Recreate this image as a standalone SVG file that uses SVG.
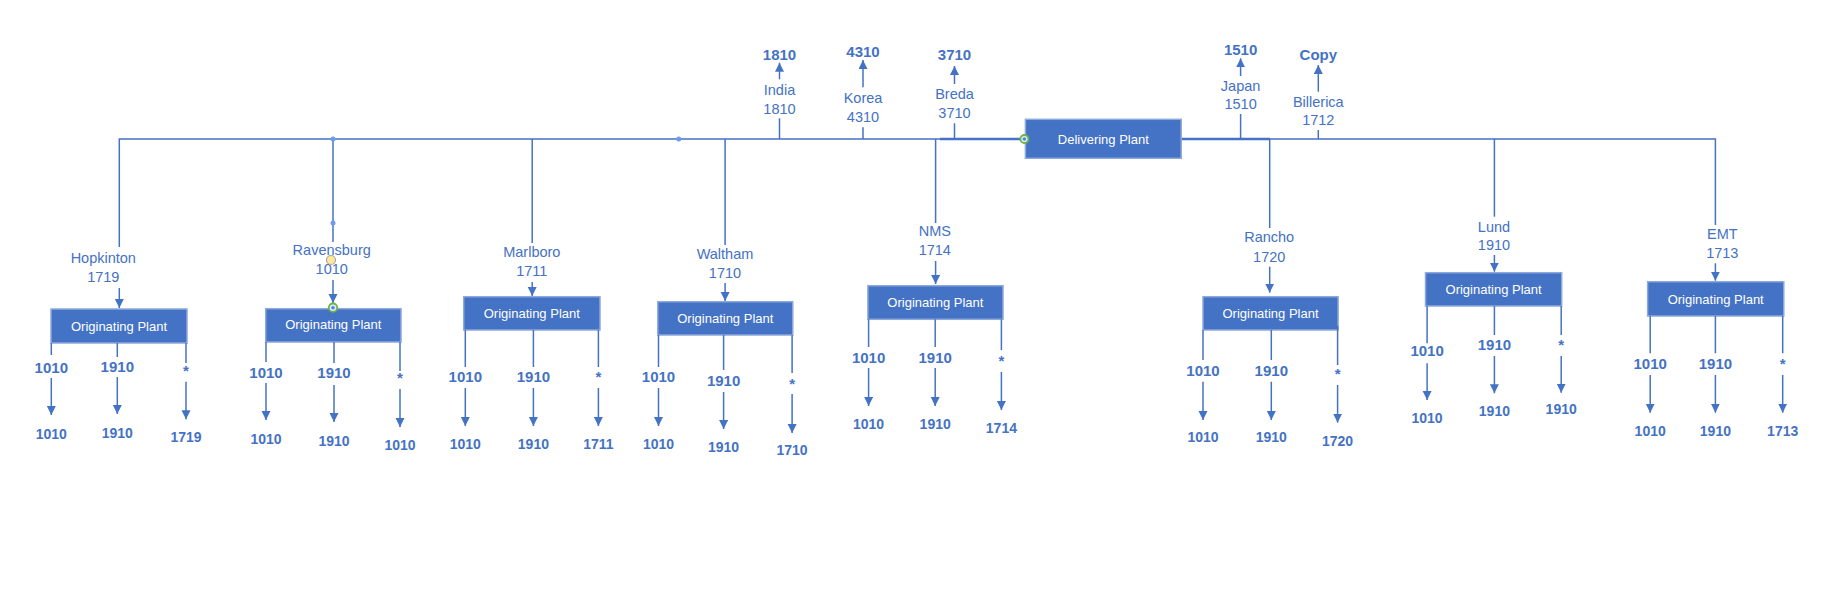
<svg xmlns="http://www.w3.org/2000/svg" width="1831" height="592" viewBox="0 0 1831 592">
<style>
.ln{stroke:#4472C4;stroke-width:1.5;fill:none}
.thk{stroke:#4472C4;stroke-width:2.5;fill:none}
.ar{stroke:#4472C4;stroke-width:1.5;fill:none;marker-end:url(#ah)}
.box{fill:#4472C4;stroke:#8EA9DB;stroke-width:1.5}
.bt{font-family:"Liberation Sans",Arial,sans-serif;font-size:13px;fill:#FFFFFF;text-anchor:middle}
.lb{font-family:"Liberation Sans",Arial,sans-serif;font-size:14.5px;fill:#4472C4;text-anchor:middle}
.b{font-family:"Liberation Sans",Arial,sans-serif;font-size:15px;font-weight:bold;fill:#4472C4;text-anchor:middle}
.bs{font-family:"Liberation Sans",Arial,sans-serif;font-size:14px;font-weight:bold;fill:#4472C4;text-anchor:middle}
.dot{fill:#6C9CF0}
</style>
<defs>
<marker id="ah" markerUnits="userSpaceOnUse" markerWidth="10" markerHeight="10" refX="9" refY="4.5" orient="auto">
<path d="M0,0 L9,4.5 L0,9 z" fill="#4472C4"/>
</marker>
</defs>
<rect width="1831" height="592" fill="#FFFFFF"/>

<g id="connectors">
<polyline class="ln" points="119.3,247 119.3,139 1025,139"/>
<line class="thk" x1="940" y1="139" x2="1025" y2="139"/>
<polyline class="ln" points="1181,139 1715.4,139 1715.4,225"/>
<line class="thk" x1="1181" y1="139" x2="1270" y2="139"/>
<line class="ln" x1="333" y1="139" x2="333" y2="242"/>
<line class="ln" x1="532.2" y1="139" x2="532.2" y2="243"/>
<line class="ln" x1="725.1" y1="139" x2="725.1" y2="245"/>
<line class="ln" x1="935.6" y1="139" x2="935.6" y2="223"/>
<line class="ln" x1="1269.7" y1="139" x2="1269.7" y2="228"/>
<line class="ln" x1="1494.4" y1="139" x2="1494.4" y2="216.7"/>
<line class="ln" x1="779.5" y1="118.3" x2="779.5" y2="139"/>
<line class="ln" x1="863" y1="127.3" x2="863" y2="139"/>
<line class="ln" x1="954.5" y1="123.3" x2="954.5" y2="139"/>
<line class="ln" x1="1240.6" y1="114" x2="1240.6" y2="139"/>
<line class="ln" x1="1318.3" y1="130" x2="1318.3" y2="139"/>
<line class="ar" x1="779.5" y1="79.3" x2="779.5" y2="62.7"/>
<line class="ar" x1="863" y1="87.3" x2="863" y2="60"/>
<line class="ar" x1="954.5" y1="84" x2="954.5" y2="66"/>
<line class="ar" x1="1240.6" y1="76" x2="1240.6" y2="58.3"/>
<line class="ar" x1="1318.3" y1="91.7" x2="1318.3" y2="65"/>
<line class="ar" x1="119.3" y1="288" x2="119.3" y2="308"/>
<line class="ar" x1="333" y1="280" x2="333" y2="303"/>
<line class="ar" x1="532.2" y1="282" x2="532.2" y2="296"/>
<line class="ar" x1="725.1" y1="283" x2="725.1" y2="301"/>
<line class="ar" x1="935.6" y1="261" x2="935.6" y2="284"/>
<line class="ar" x1="1269.7" y1="266.7" x2="1269.7" y2="292.7"/>
<line class="ar" x1="1494.4" y1="255" x2="1494.4" y2="271.7"/>
<line class="ar" x1="1715.4" y1="263.3" x2="1715.4" y2="280.7"/>
<circle class="dot" cx="333" cy="139" r="2.5"/>
<circle class="dot" cx="333" cy="223" r="2.5"/>
<circle class="dot" cx="678.8" cy="139" r="2.5"/>
</g>

<g id="delivering-plant">
<rect class="box" x="1025.4" y="119.3" width="155.8" height="39"/>
<text class="bt" x="1103.3" y="144">Delivering Plant</text>
<circle cx="1024.4" cy="139" r="4" fill="#DDEBFF" stroke="#6FB43F" stroke-width="1.8"/>
<circle cx="1024.4" cy="139" r="1.8" fill="#4A86E8"/>
</g>

<g id="india">
<text class="b" x="779.5" y="60">1810</text>
<text class="lb" x="779.5" y="95">India</text>
<text class="lb" x="779.5" y="114">1810</text>
</g>
<g id="korea">
<text class="b" x="863" y="57.3">4310</text>
<text class="lb" x="863" y="103.3">Korea</text>
<text class="lb" x="863" y="122.3">4310</text>
</g>
<g id="breda">
<text class="b" x="954.5" y="60">3710</text>
<text class="lb" x="954.5" y="99.3">Breda</text>
<text class="lb" x="954.5" y="118.3">3710</text>
</g>
<g id="japan">
<text class="b" x="1240.6" y="55">1510</text>
<text class="lb" x="1240.6" y="90.7">Japan</text>
<text class="lb" x="1240.6" y="109">1510</text>
</g>
<g id="billerica">
<text class="b" x="1318.3" y="60">Copy</text>
<text class="lb" x="1318.3" y="106.7">Billerica</text>
<text class="lb" x="1318.3" y="125">1712</text>
</g>

<g id="hopkinton">
<text class="lb" x="103.3" y="263">Hopkinton</text>
<text class="lb" x="103.3" y="282">1719</text>
<rect class="box" x="51" y="309" width="136" height="34"/>
<text class="bt" x="119" y="331">Originating Plant</text>
<line class="ln" x1="51.3" y1="343" x2="51.3" y2="355"/>
<text class="b" x="51.3" y="373">1010</text>
<line class="ar" x1="51.3" y1="378" x2="51.3" y2="415"/>
<text class="bs" x="51.3" y="439">1010</text>
<line class="ln" x1="117.3" y1="343" x2="117.3" y2="357"/>
<text class="b" x="117.3" y="372">1910</text>
<line class="ar" x1="117.3" y1="377" x2="117.3" y2="414"/>
<text class="bs" x="117.3" y="438">1910</text>
<line class="ln" x1="186" y1="343" x2="186" y2="363"/>
<text class="b" x="186" y="376">*</text>
<line class="ar" x1="186" y1="381.7" x2="186" y2="419.3"/>
<text class="bs" x="186" y="442">1719</text>
</g>

<g id="ravensburg">
<text class="lb" x="331.7" y="255">Ravensburg</text>
<text class="lb" x="331.7" y="274">1010</text>
<circle cx="331" cy="260" r="4.5" fill="#FFE699" stroke="#A6A6A6" stroke-width="1.2"/>
<rect class="box" x="265.7" y="308.7" width="135.3" height="33.3"/>
<text class="bt" x="333.3" y="329">Originating Plant</text>
<circle cx="333" cy="307.7" r="4.2" fill="#DDEBFF" stroke="#6FB43F" stroke-width="1.8"/>
<circle cx="333" cy="307.7" r="1.8" fill="#4A86E8"/>
<line class="ln" x1="266" y1="342" x2="266" y2="362"/>
<text class="b" x="266" y="378">1010</text>
<line class="ar" x1="266" y1="383" x2="266" y2="420"/>
<text class="bs" x="266" y="444">1010</text>
<line class="ln" x1="334" y1="342" x2="334" y2="363"/>
<text class="b" x="334" y="378">1910</text>
<line class="ar" x1="334" y1="385" x2="334" y2="422"/>
<text class="bs" x="334" y="446">1910</text>
<line class="ln" x1="400" y1="342" x2="400" y2="371"/>
<text class="b" x="400" y="383">*</text>
<line class="ar" x1="400" y1="389" x2="400" y2="427"/>
<text class="bs" x="400" y="450">1010</text>
</g>

<g id="marlboro">
<text class="lb" x="531.8" y="257">Marlboro</text>
<text class="lb" x="531.8" y="276">1711</text>
<rect class="box" x="463.7" y="296.7" width="136.3" height="33.3"/>
<text class="bt" x="531.8" y="318">Originating Plant</text>
<line class="ln" x1="465.3" y1="330" x2="465.3" y2="367"/>
<text class="b" x="465.3" y="382">1010</text>
<line class="ar" x1="465.3" y1="388" x2="465.3" y2="426"/>
<text class="bs" x="465.3" y="449">1010</text>
<line class="ln" x1="533.4" y1="330" x2="533.4" y2="367"/>
<text class="b" x="533.4" y="382">1910</text>
<line class="ar" x1="533.4" y1="388" x2="533.4" y2="426"/>
<text class="bs" x="533.4" y="449">1910</text>
<line class="ln" x1="598.4" y1="330" x2="598.4" y2="367"/>
<text class="b" x="598.4" y="382">*</text>
<line class="ar" x1="598.4" y1="388" x2="598.4" y2="426"/>
<text class="bs" x="598.4" y="449">1711</text>
</g>

<g id="waltham">
<text class="lb" x="725" y="259">Waltham</text>
<text class="lb" x="725" y="278">1710</text>
<rect class="box" x="657.8" y="301.7" width="135" height="33.3"/>
<text class="bt" x="725.3" y="323">Originating Plant</text>
<line class="ln" x1="658.5" y1="335" x2="658.5" y2="367"/>
<text class="b" x="658.5" y="382">1010</text>
<line class="ar" x1="658.5" y1="388" x2="658.5" y2="426"/>
<text class="bs" x="658.5" y="449">1010</text>
<line class="ln" x1="723.6" y1="335" x2="723.6" y2="370"/>
<text class="b" x="723.6" y="386">1910</text>
<line class="ar" x1="723.6" y1="392" x2="723.6" y2="429"/>
<text class="bs" x="723.6" y="452">1910</text>
<line class="ln" x1="792.1" y1="335" x2="792.1" y2="373"/>
<text class="b" x="792.1" y="389">*</text>
<line class="ar" x1="792.1" y1="394" x2="792.1" y2="433"/>
<text class="bs" x="792.1" y="455">1710</text>
</g>

<g id="nms">
<text class="lb" x="934.8" y="236">NMS</text>
<text class="lb" x="934.8" y="255">1714</text>
<rect class="box" x="867.9" y="285.7" width="135.1" height="33.6"/>
<text class="bt" x="935.4" y="306.7">Originating Plant</text>
<line class="ln" x1="868.6" y1="319.3" x2="868.6" y2="347"/>
<text class="b" x="868.6" y="363">1010</text>
<line class="ar" x1="868.6" y1="368" x2="868.6" y2="406"/>
<text class="bs" x="868.6" y="429">1010</text>
<line class="ln" x1="935.2" y1="319.3" x2="935.2" y2="347"/>
<text class="b" x="935.2" y="363">1910</text>
<line class="ar" x1="935.2" y1="368" x2="935.2" y2="406"/>
<text class="bs" x="935.2" y="429">1910</text>
<line class="ln" x1="1001.4" y1="319.3" x2="1001.4" y2="350"/>
<text class="b" x="1001.4" y="366">*</text>
<line class="ar" x1="1001.4" y1="372" x2="1001.4" y2="410"/>
<text class="bs" x="1001.4" y="433">1714</text>
</g>

<g id="rancho">
<text class="lb" x="1269.2" y="242.3">Rancho</text>
<text class="lb" x="1269.2" y="261.7">1720</text>
<rect class="box" x="1203" y="296.7" width="135.1" height="33.3"/>
<text class="bt" x="1270.5" y="318.3">Originating Plant</text>
<line class="ln" x1="1203" y1="330" x2="1203" y2="360"/>
<text class="b" x="1203" y="375.7">1010</text>
<line class="ar" x1="1203" y1="381.7" x2="1203" y2="420"/>
<text class="bs" x="1203" y="442.3">1010</text>
<line class="ln" x1="1271.3" y1="330" x2="1271.3" y2="360"/>
<text class="b" x="1271.3" y="375.7">1910</text>
<line class="ar" x1="1271.3" y1="381.7" x2="1271.3" y2="420"/>
<text class="bs" x="1271.3" y="442.3">1910</text>
<line class="ln" x1="1337.6" y1="326" x2="1337.6" y2="365"/>
<text class="b" x="1337.6" y="378.7">*</text>
<line class="ar" x1="1337.6" y1="385" x2="1337.6" y2="422.7"/>
<text class="bs" x="1337.6" y="445.7">1720</text>
</g>

<g id="lund">
<text class="lb" x="1494" y="231.7">Lund</text>
<text class="lb" x="1494" y="250">1910</text>
<rect class="box" x="1425.5" y="272.7" width="136.2" height="33.3"/>
<text class="bt" x="1493.6" y="294">Originating Plant</text>
<line class="ln" x1="1427.1" y1="306" x2="1427.1" y2="343.3"/>
<text class="b" x="1427.1" y="355.7">1010</text>
<line class="ar" x1="1427.1" y1="363.3" x2="1427.1" y2="400"/>
<text class="bs" x="1427.1" y="423.3">1010</text>
<line class="ln" x1="1494.4" y1="306" x2="1494.4" y2="335"/>
<text class="b" x="1494.4" y="350">1910</text>
<line class="ar" x1="1494.4" y1="356" x2="1494.4" y2="393.3"/>
<text class="bs" x="1494.4" y="416">1910</text>
<line class="ln" x1="1561.2" y1="306" x2="1561.2" y2="335"/>
<text class="b" x="1561.2" y="349.7">*</text>
<line class="ar" x1="1561.2" y1="356" x2="1561.2" y2="392.7"/>
<text class="bs" x="1561.2" y="414.3">1910</text>
</g>

<g id="emt">
<text class="lb" x="1722.3" y="239.3">EMT</text>
<text class="lb" x="1722.3" y="258.3">1713</text>
<rect class="box" x="1647.6" y="281.7" width="136.2" height="34.3"/>
<text class="bt" x="1715.7" y="304">Originating Plant</text>
<line class="ln" x1="1650.2" y1="316" x2="1650.2" y2="353.3"/>
<text class="b" x="1650.2" y="369">1010</text>
<line class="ar" x1="1650.2" y1="375" x2="1650.2" y2="412.7"/>
<text class="bs" x="1650.2" y="436">1010</text>
<line class="ln" x1="1715.4" y1="316" x2="1715.4" y2="353.3"/>
<text class="b" x="1715.4" y="369">1910</text>
<line class="ar" x1="1715.4" y1="375" x2="1715.4" y2="412.7"/>
<text class="bs" x="1715.4" y="436">1910</text>
<line class="ln" x1="1782.7" y1="316" x2="1782.7" y2="353.3"/>
<text class="b" x="1782.7" y="369">*</text>
<line class="ar" x1="1782.7" y1="375" x2="1782.7" y2="412.7"/>
<text class="bs" x="1782.7" y="436">1713</text>
</g>
</svg>
